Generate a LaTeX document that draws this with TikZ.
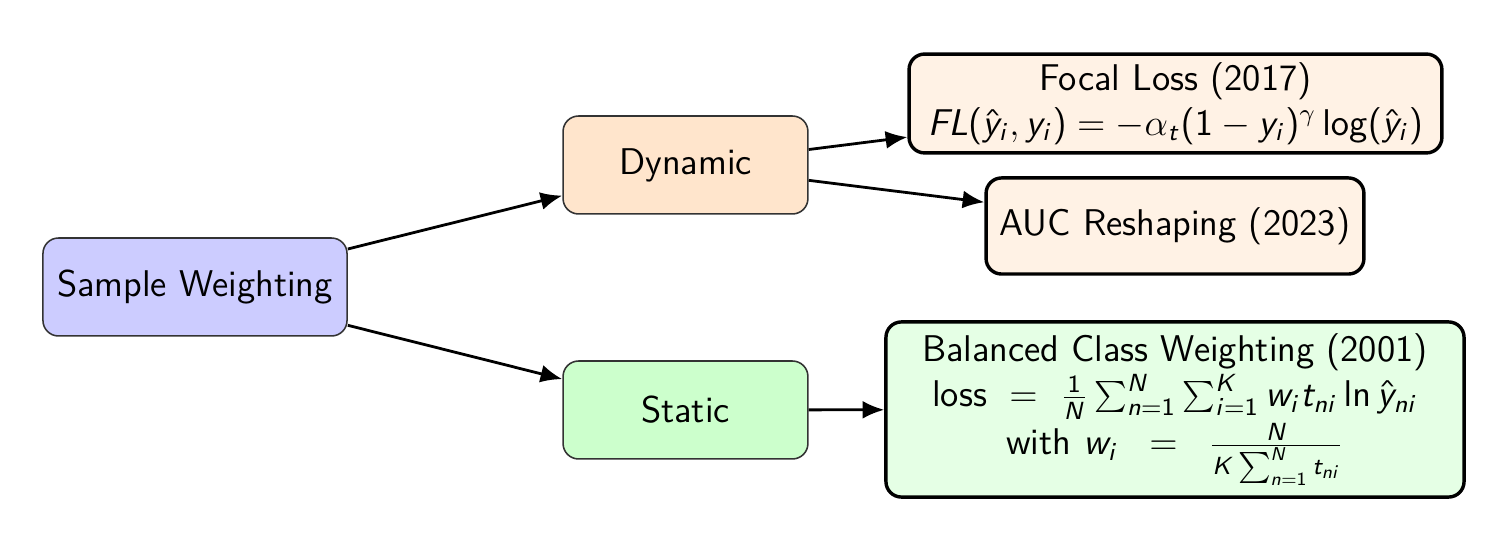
\documentclass[tikz,border=0pt]{standalone}
\renewcommand{\familydefault}{\sfdefault}
\DeclareSymbolFont{operators}{OT1}{cmss}{m}{n}
\DeclareSymbolFont{sfitalic}{OT1}{cmss}{m}{sl}
\makeatletter
\@tfor\myletter:=abcdefghijklmnopqrstuvwxyzABCDEFGHIJKLMNOPQRSTUVWXYZ\do{%
  \edef\mytmp{\noexpand\DeclareMathSymbol{\myletter}{\noexpand\mathalpha}{sfitalic}{`\myletter}}\mytmp}
\makeatother
\usetikzlibrary{arrows.meta}
\begin{document}
\begin{tikzpicture}[x=0.3226pt,y=-0.3226pt,
  base/.style={rounded corners=5pt, align=center, inner sep=1pt, font=\fontsize{12}{14.5}\selectfont},
  thinbox/.style={base, draw=black!80, line width=0.5pt},
  leafbox/.style={base, draw=black, line width=1.1pt},
  conn/.style={-{Latex[length=7pt,width=5.8pt]}, line width=0.9pt, black}]
\useasboundingbox (0,0) rectangle (1495,553);
\node[thinbox, fill=blue!20, minimum width=98.1pt, minimum height=31.6pt] (sw) at (195,287) {Sample Weighting};
\node[thinbox, fill=orange!20, minimum width=79pt, minimum height=31.6pt] (dyn) at (685.5,165) {Dynamic};
\node[thinbox, fill=green!20, minimum width=79pt, minimum height=31.6pt] (sta) at (685.5,410) {Static};
\node[leafbox, fill=orange!10, minimum width=171.9pt, minimum height=31.9pt] (fl) at (1175.5,103.5) {Focal Loss (2017)\\ $FL(\hat{y}_i, y_i) = -\alpha_t (1 - y_i)^\gamma \log(\hat{y}_i)$};
\node[leafbox, fill=orange!10, minimum width=121.9pt, minimum height=31pt] (auc) at (1175,226) {AUC Reshaping (2023)};
\node[leafbox, fill=green!10, minimum width=186.5pt, minimum height=56.5pt] (bcw) at (1175,409.5) {Balanced Class Weighting (2001)\\ loss $\;=\;$ $\frac{1}{N}\sum_{n=1}^{N}\sum_{i=1}^{K} w_i t_{ni} \ln \hat{y}_{ni}$\\[1pt] with $w_i \;\;=\;\; \frac{N}{K\sum_{n=1}^{N} t_{ni}}$};
\draw[conn] (sw) -- (dyn);
\draw[conn] (sw) -- (sta);
\draw[conn] (dyn) -- (fl);
\draw[conn] (dyn) -- (auc);
\draw[conn] (sta) -- (bcw);
\end{tikzpicture}
\end{document}
